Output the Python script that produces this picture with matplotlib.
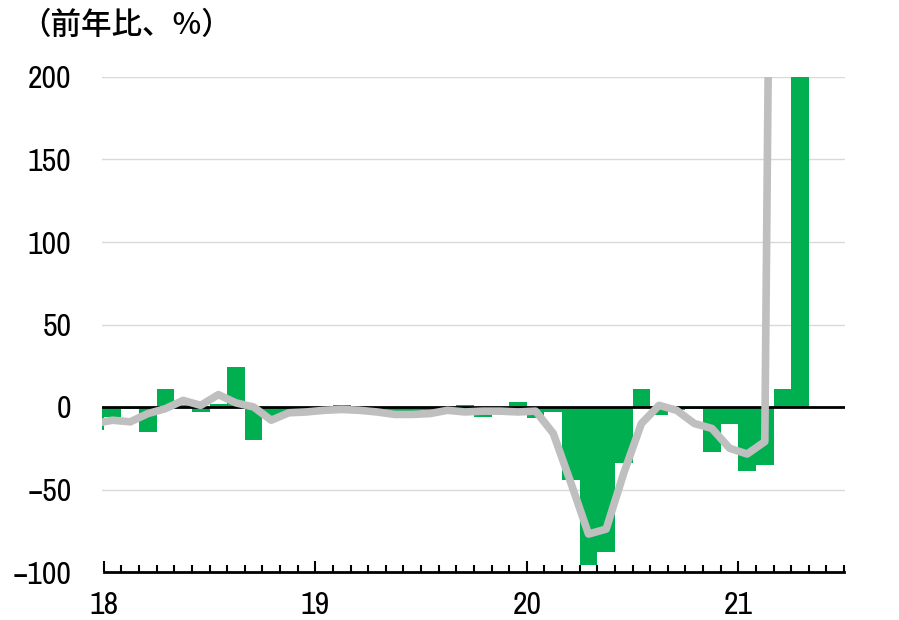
import numpy as np
import pandas as pd
import matplotlib
matplotlib.use("Agg")
import matplotlib.pyplot as plt
from matplotlib.ticker import FixedLocator, NullFormatter

# monthly data, Dec 2017 - Apr 2021 (bars) / Dec 2017 - Mar 2021 (line)
bar_months = pd.period_range("2017-12", "2021-04", freq="M")
bar_values = [-14, -6, -1, -15, 11, 1, -3, 2, 24, -20, -6, -5, -4,
              -2, 1.5, -1, -2, -2.5, -2.5, -2, -1, 1.5, -6, -1, 3,
              -6.5, -3, -44, -96, -88, -34, 11, -5, -2, -1, -27, -10,
              -39, -35, 11, 250]

line_months = pd.period_range("2017-12", "2021-03", freq="M")
line_values = [-10, -8, -9, -4, -1, 4, 1, 7.5, 2.5, 0, -8, -3.5, -3,
               -2, -1.5, -2, -3, -4.5, -4.5, -4, -2, -3, -2.5, -2.5, -3,
               -2.5, -16, -46, -77, -74, -40, -10, 1, -2, -10, -13, -25,
               -28.5, -21, 1150]

year_labels = ["18", "19", "20", "21"]
y_ticks = [-100, -50, 0, 50, 100, 150, 200]
y_labels = ["\u2212100", "\u221250", "0", "50", "100", "150", "200"]


def month_pos(periods):
    # month centre, 0 = start of Jan 2018
    return np.array([(p.year - 2018) * 12 + p.month - 1 + 0.5 for p in periods])


num_font = ["Archivo Narrow", "Liberation Sans", "DejaVu Sans"]

fig = plt.figure(figsize=(8.99, 6.2), dpi=100)
ax = fig.add_axes([102 / 899, 48 / 620, 743 / 899, 495 / 620])

for v in [-50, 50, 100, 150, 200]:
    ax.axhline(v, color="#d9d9d9", lw=1.0, zorder=0)

ax.bar(month_pos(bar_months), bar_values, width=1.0, color="#00b050",
       edgecolor="none", zorder=2)
ax.axhline(0, color="black", lw=2, zorder=3)
ax.plot(month_pos(line_months), line_values, color="#bfbfbf", lw=5.5,
        solid_joinstyle="round", zorder=4)

ax.set_xlim(-0.1, 42.05)
ax.set_ylim(-100, 200)

for s in ["top", "right", "left"]:
    ax.spines[s].set_visible(False)
ax.spines["bottom"].set_color("black")
ax.spines["bottom"].set_linewidth(2)
ax.spines["bottom"].set_bounds(0, 42)

ax.xaxis.set_major_locator(FixedLocator([0, 12, 24, 36]))
ax.set_xticklabels(year_labels)
ax.xaxis.set_minor_locator(FixedLocator(np.arange(0, 43)))
ax.xaxis.set_minor_formatter(NullFormatter())
ax.tick_params(axis="x", which="major", direction="in", length=8, width=1.5,
               pad=14, labelsize=23)
ax.tick_params(axis="x", which="minor", direction="in", length=5, width=1.5)

ax.set_yticks(y_ticks)
ax.set_yticklabels(y_labels)
ax.tick_params(axis="y", length=0, pad=22, labelsize=23)

for lab in ax.get_xticklabels() + ax.get_yticklabels():
    lab.set_family(num_font)

fig.text(20 / 899, 1 - 10 / 620, "（前年比、%）", ha="left", va="top",
         fontsize=22, fontweight="medium",
         family=["Noto Sans CJK JP", "DejaVu Sans"])

fig.savefig("out.png", dpi=100)
